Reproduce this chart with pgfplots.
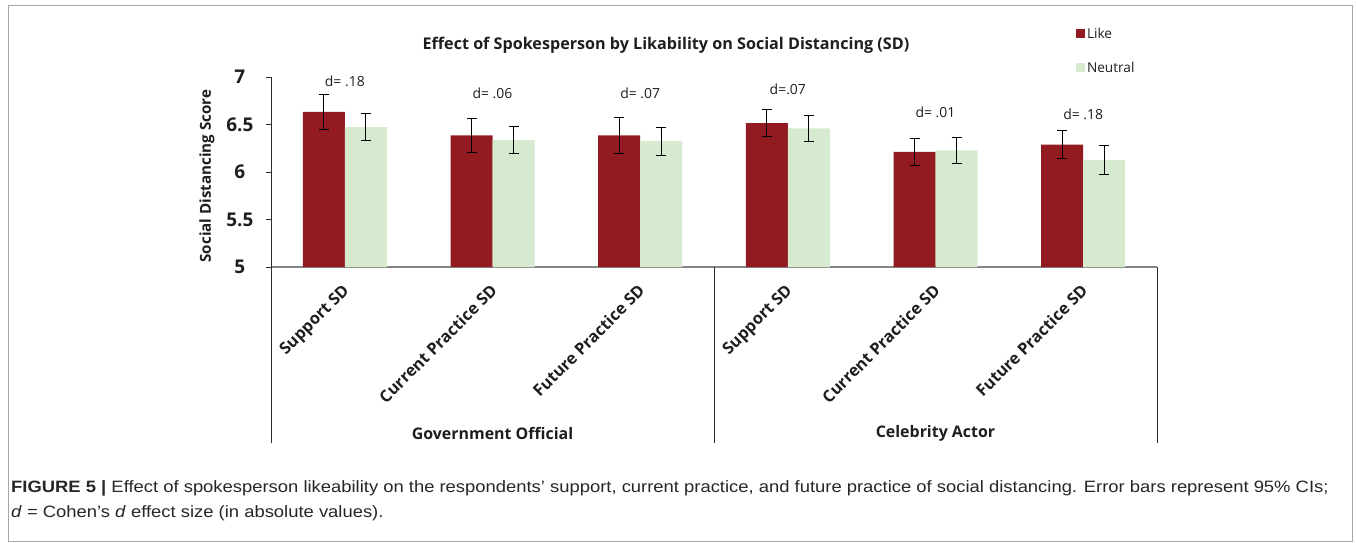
\documentclass[border=0pt]{standalone}
\usepackage{pgfplots}
\pgfplotsset{compat=1.18}
\usepackage{pgfplotstable}
\usepackage{fontspec}
\setmainfont{Open Sans}
\newfontfamily\capfont{Liberation Sans}

\definecolor{likeRed}{HTML}{921A21}
\definecolor{neutralGreen}{HTML}{D6EACF}
\definecolor{axisDark}{HTML}{2E2E2E}
\definecolor{axisGray}{HTML}{858585}
\definecolor{txt}{HTML}{1E1E1E}

% x = category index, y = mean score, e = half-width of the 95% CI
\pgfplotstableread{
x y e
0 6.633 0.183
1 6.385 0.182
2 6.385 0.194
3 6.514 0.142
4 6.213 0.142
5 6.287 0.147
}\likedata
\pgfplotstableread{
x y e
0 6.472 0.140
1 6.336 0.139
2 6.325 0.147
3 6.458 0.137
4 6.227 0.140
5 6.126 0.149
}\neutraldata

\begin{document}
\begin{tikzpicture}
\useasboundingbox (0,0) rectangle (1357bp,-543bp);
\draw[gray!70, line width=1bp] (8bp,-5bp) rectangle (1352bp,-541bp);

\begin{axis}[
  at={(271bp,-267bp)}, anchor=south west,
  scale only axis, width=886bp, height=190bp,
  ymin=5, ymax=7, xmin=-0.5, xmax=5.5,
  clip=false,
  ybar=0pt, bar width=42bp,
  axis x line*=bottom, axis y line*=left,
  x axis line style={axisGray, line width=1.3bp},
  y axis line style={axisDark, line width=0.9bp},
  ytick={5,5.5,6,6.5,7},
  yticklabels={5,5.5,6,6.5,7},
  ytick align=outside, major tick length=5bp,
  ytick style={axisDark, line width=0.9bp},
  yticklabel style={font=\fontsize{19}{19}\selectfont\bfseries, text=txt,
    text width=36bp, align=center, anchor=east, inner sep=0pt, xshift=-8bp},
  xtick={0,...,5},
  xticklabels={Support SD, Current Practice SD, Future Practice SD,
               Support SD, Current Practice SD, Future Practice SD},
  xtick style={draw=none},
  % shifts act along and across the rotated text
  xticklabel style={rotate=45, anchor=north east, inner sep=0pt,
    font=\fontsize{16.4}{16.4}\selectfont\bfseries, text=txt,
    xshift=-10bp, yshift=-5.5bp},
  /pgf/number format/assume math mode=true,
  legend style={at={(0.905,1.28)}, anchor=north west, draw=none, fill=none,
    font=\fontsize{13.7}{13.7}\selectfont, text=txt, row sep=18bp,
    legend cell align=left},
  legend image code/.code={\draw[#1, draw=none] (0bp,-4.5bp) rectangle (9bp,4.5bp);},
]
\addplot[fill=likeRed, draw=none,
  error bars/.cd, y dir=both, y explicit,
  error bar style={black, line width=0.8bp},
  error mark options={rotate=90, mark size=5bp, black, line width=0.8bp}]
  table[x=x, y=y, y error=e] {\likedata};
\addlegendentry{Like}
\addplot[fill=neutralGreen, draw=none,
  error bars/.cd, y dir=both, y explicit,
  error bar style={black, line width=0.8bp},
  error mark options={rotate=90, mark size=5bp, black, line width=0.8bp}]
  table[x=x, y=y, y error=e] {\neutraldata};
\addlegendentry{Neutral}

% effect sizes above each pair
\begin{scope}[every node/.style={font=\fontsize{14}{14}\selectfont, text=txt}]
\node at (axis cs:0,6.95) {d= .18};
\node at (axis cs:1,6.83) {d= .06};
\node at (axis cs:2,6.83) {d= .07};
\node at (axis cs:3,6.87) {d=.07};
\node at (axis cs:4,6.63) {d= .01};
\node at (axis cs:5,6.61) {d= .18};
\end{scope}

% group dividers of the category axis
\draw[axisDark, line width=0.9bp] (axis cs:-0.5,5) -- ++(0bp,-176bp);
\draw[axisDark, line width=0.9bp] (axis cs:2.5,5) -- ++(0bp,-176bp);
\draw[axisDark, line width=0.9bp] (axis cs:5.5,5) -- ++(0bp,-176bp);
\node[font=\fontsize{16}{16}\selectfont\bfseries, text=txt] at ([yshift=-166bp]axis cs:1,5) {Government Official};
\node[font=\fontsize{16}{16}\selectfont\bfseries, text=txt] at ([yshift=-166bp]axis cs:4,5) {Celebrity Actor};
\end{axis}

\node[font=\fontsize{16.2}{16.2}\selectfont\bfseries, text=txt] at (666bp,-45bp)
  {Effect of Spokesperson by Likability on Social Distancing (SD)};
\node[font=\fontsize{15.2}{15.2}\selectfont\bfseries, text=txt, rotate=90] at (207bp,-176bp)
  {Social Distancing Score};

\node[anchor=north west, inner sep=0pt, text=black!85] at (11bp,-480bp)
  {\scalebox{1.12}[1]{\parbox{1300bp}{\capfont\fontsize{16.5}{25.5}\selectfont
   \textbf{FIGURE 5 |} Effect of spokesperson likeability on the respondents’ support, current practice, and future practice of social distancing. Error bars represent 95\% CIs;\\
   \textit{d} = Cohen’s \textit{d} effect size (in absolute values).}}};
\end{tikzpicture}
\end{document}
